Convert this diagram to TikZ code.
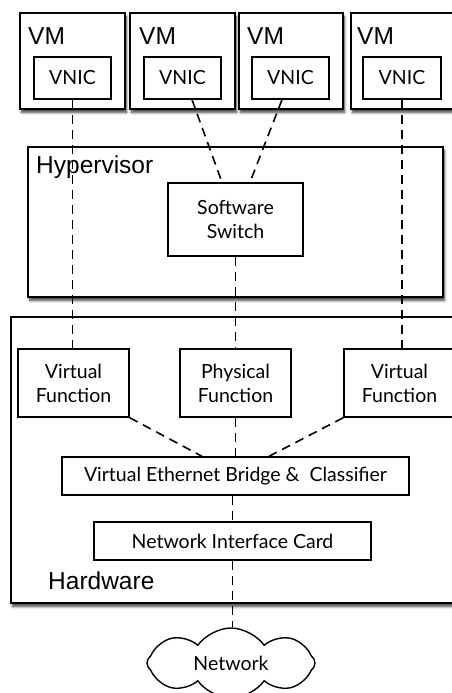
\documentclass[tikz,border=0pt]{standalone}
\usepackage{fontspec}
\setmainfont{Lato}
\newfontfamily\helv{Liberation Sans}
\usetikzlibrary{shapes.symbols,shadows.blur}
\begin{document}
\begin{tikzpicture}[x=1pt,y=-1pt,
  outerbox/.style={draw,line width=1.9pt,fill=white,inner sep=0pt,
    blur shadow={shadow xshift=1.5pt,shadow yshift=-3.5pt,shadow blur steps=6,
      shadow blur radius=2.5pt,shadow opacity=75}},
  innerbox/.style={draw,line width=1.4pt,fill=white,inner sep=0pt,align=center,
    font=\fontsize{19.5}{24}\selectfont},
  biglabel/.style={anchor=base west,inner sep=0pt,font=\helv\fontsize{24.5}{28}\selectfont},
  link/.style={line width=1.6pt,dash pattern=on 9pt off 6pt}]
\useasboundingbox (0,0) rectangle (452,693);
% VMs
\node[outerbox,minimum width=105,minimum height=96] (vm1) at (72.5,61) {};
\node[outerbox,minimum width=105,minimum height=96] (vm2) at (182.5,61) {};
\node[outerbox,minimum width=104,minimum height=96] (vm3) at (291,61) {};
\node[outerbox,minimum width=105,minimum height=96] (vm4) at (403.5,61) {};
\node[biglabel] (vml1) at (28,45) {VM};
\node[biglabel] (vml2) at (139,45) {VM};
\node[biglabel] (vml3) at (247,45) {VM};
\node[biglabel] (vml4) at (357,45) {VM};
\node[innerbox,minimum width=77,minimum height=42] (vnic1) at (72.5,78) {VNIC};
\node[innerbox,minimum width=77,minimum height=42] (vnic2) at (182.5,78) {VNIC};
\node[innerbox,minimum width=77,minimum height=42] (vnic3) at (290.5,78) {VNIC};
\node[innerbox,minimum width=78,minimum height=42] (vnic4) at (402,78) {VNIC};
% Hypervisor
\node[outerbox,minimum width=415,minimum height=150] (hyp) at (235.5,222) {};
\node[biglabel] (hypl) at (36,173) {Hypervisor};
\node[innerbox,minimum width=135,minimum height=73] (sw) at (235.5,219.5) {Software\\Switch};
% Hardware
\node[outerbox,minimum width=452,minimum height=286] (hw) at (237,460) {};
\node[biglabel] (hwl) at (48,589) {Hardware};
\node[innerbox,minimum width=111,minimum height=68] (vf1) at (73.5,383) {Virtual\\Function};
\node[innerbox,minimum width=111,minimum height=68] (pf) at (235.5,383) {Physical\\Function};
\node[innerbox,minimum width=111,minimum height=68] (vf2) at (399.5,383) {Virtual\\Function};
\node[innerbox,minimum width=347,minimum height=38] (veb) at (235.5,476) {Virtual Ethernet Bridge \&\ \ Classifier};
\node[innerbox,minimum width=277,minimum height=38] (nic) at (232.5,541) {Network Interface Card};
% Network cloud
\node[cloud,draw,line width=1.4pt,fill=white,cloud puffs=8,cloud puff arc=110,cloud ignores aspect,
  minimum width=168,minimum height=70,inner sep=0pt,
  font=\fontsize{19.5}{24}\selectfont] (net) at (231,663) {Network};
% Connectors
\draw[link] (vnic1.south) -- (vnic1.south |- vf1.north);
\draw[link] ([xshift=9.5pt]vnic2.south) -- ([xshift=-13.5pt]sw.north);
\draw[link] ([xshift=-8.5pt]vnic3.south) -- ([xshift=14.5pt]sw.north);
\draw[link] (vnic4.south) -- (vnic4.south |- vf2.north);
\draw[link] (sw.south) -- (pf.north);
\draw[link] (vf1.south east) -- ([xshift=-33.5pt]veb.north);
\draw[link] (pf.south) -- (veb.north);
\draw[link] (vf2.south west) -- ([xshift=33.5pt]veb.north);
\draw[link] (nic.north |- veb.south) -- (nic.north);
\draw[link] (nic.south) -- (nic.south |- net.north);
\end{tikzpicture}
\end{document}
